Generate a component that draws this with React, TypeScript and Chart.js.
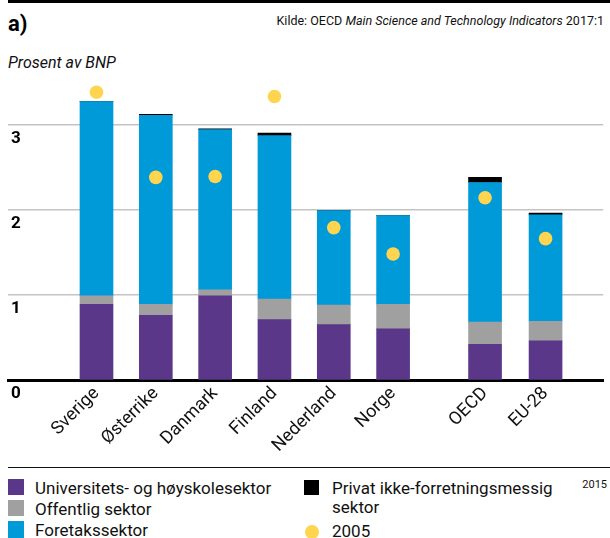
import React, { useEffect, useRef } from "react";
import { Chart, registerables } from "chart.js";
Chart.register(...registerables);

// ---- data ----
const countries = ["Sverige", "Østerrike", "Danmark", "Finland", "Nederland", "Norge", "OECD", "EU-28"];
const slots = [0, 1, 2, 3, 4, 5, 6.55, 7.57];
const universitet = [0.89, 0.76, 0.99, 0.71, 0.65, 0.6, 0.42, 0.46];
const offentlig = [0.1, 0.13, 0.07, 0.24, 0.23, 0.29, 0.26, 0.23];
const foretak = [2.28, 2.22, 1.88, 1.92, 1.11, 1.04, 1.64, 1.25];
const privat = [0.0, 0.01, 0.01, 0.03, 0.0, 0.0, 0.06, 0.02];
const ar2005 = [3.38, 2.38, 2.39, 3.33, 1.79, 1.48, 2.14, 1.66];
const yTicks = [0, 1, 2, 3];

const PURPLE = "#5b378a";
const GRAY = "#a0a0a0";
const BLUE = "#009ad9";
const BLACK = "#000000";
const YELLOW = "#ffd54f";
const FONT = "Roboto";

const pts = (arr: number[]) => arr.map((v, i) => ({ x: slots[i], y: v }));

function T(props: { x: number; base: number; size: number; children: any; style?: any; right?: boolean }) {
  const { x, base, size, children, style, right } = props;
  const top = base - 0.841 * size;
  const pos: any = right ? { right: 610 - x } : { left: x };
  return (
    <div
      style={{
        position: "absolute",
        top,
        ...pos,
        fontFamily: FONT,
        fontSize: size,
        lineHeight: `${size}px`,
        whiteSpace: "nowrap",
        color: "#111",
        ...style,
      }}
    >
      {children}
    </div>
  );
}

function Sq(props: { x: number; y: number; w: number; h: number; c: string; round?: boolean }) {
  return (
    <div
      style={{
        position: "absolute",
        left: props.x,
        top: props.y,
        width: props.w,
        height: props.h,
        background: props.c,
        borderRadius: props.round ? "50%" : 0,
      }}
    />
  );
}

export default function App() {
  const ref = useRef<HTMLCanvasElement | null>(null);

  useEffect(() => {
    if (!ref.current) return;
    const xMin = -1.4917;
    const xMax = xMin + 602 / 60;
    const chart = new Chart(ref.current, {
      type: "bar",
      data: {
        datasets: [
          {
            type: "line",
            label: "2005",
            data: pts(ar2005),
            showLine: false,
            pointRadius: 6.8,
            pointHoverRadius: 6.8,
            pointBackgroundColor: YELLOW,
            pointBorderWidth: 0,
            borderColor: YELLOW,
            order: 0,
            stack: "dots",
          } as any,
          { label: "Universitets- og høyskolesektor", data: pts(universitet), backgroundColor: PURPLE, order: 1, stack: "s" },
          { label: "Offentlig sektor", data: pts(offentlig), backgroundColor: GRAY, order: 1, stack: "s" },
          { label: "Foretakssektor", data: pts(foretak), backgroundColor: BLUE, order: 1, stack: "s" },
          { label: "Privat ikke-forretningsmessig sektor", data: pts(privat), backgroundColor: BLACK, order: 1, stack: "s" },
        ] as any,
      },
      options: {
        animation: false,
        responsive: false,
        maintainAspectRatio: false,
        layout: { padding: { top: 82, left: 0, right: 0, bottom: 0 } },
        datasets: { bar: { barThickness: 33, borderWidth: 0 } } as any,
        plugins: { legend: { display: false }, tooltip: { enabled: false } },
        scales: {
          x: {
            type: "linear",
            min: xMin,
            max: xMax,
            offset: false,
            stacked: true,
            z: 1,
            grid: { display: false, drawTicks: false },
            border: { display: true, color: "#000", width: 3 },
            afterBuildTicks: (s: any) => {
              s.ticks = slots.map((v) => ({ value: v }));
            },
            afterFit: (s: any) => {
              s.height = 86;
            },
            ticks: {
              autoSkip: false,
              maxRotation: 45,
              minRotation: 45,
              padding: 3,
              color: "#111",
              font: { family: FONT, size: 18 },
              callback: (v: any) => {
                const i = slots.findIndex((s) => Math.abs(s - Number(v)) < 1e-6);
                return i >= 0 ? countries[i] : "";
              },
            },
          } as any,
          y: {
            type: "linear",
            min: 0,
            max: 3.5,
            stacked: true,
            border: { display: false },
            grid: {
              drawTicks: false,
              color: (c: any) => (c.tick && c.tick.value === 0 ? "rgba(0,0,0,0)" : "#c4c4c4"),
              lineWidth: 1.4,
            },
            afterBuildTicks: (s: any) => {
              s.ticks = yTicks.map((v) => ({ value: v }));
            },
            afterFit: (s: any) => {
              s.width = 8;
            },
            ticks: {
              mirror: true,
              padding: 3,
              labelOffset: 14,
              color: "#000",
              font: { family: FONT, size: 17, weight: "bold" },
              callback: (v: any) => String(v),
            },
          } as any,
        },
      },
    });
    return () => chart.destroy();
  }, []);

  return (
    <div style={{ position: "absolute", left: 0, top: 0, width: 610, height: 538, overflow: "hidden", background: "#fff" }}>
      <Sq x={8} y={0} w={602} h={3} c="#000" />
      <T x={8} base={31.7} size={22} style={{ fontWeight: "bold", color: "#000" }}>
        a)
      </T>
      <T x={604} base={26} size={12.5} right>
        Kilde: OECD <i>Main Science and Technology Indicators</i> 2017:1
      </T>
      <T x={8} base={68.3} size={16} style={{ fontStyle: "italic" }}>
        Prosent av BNP
      </T>
      <canvas ref={ref} width={610} height={466} style={{ position: "absolute", left: 0, top: 0, width: 610, height: 466 }} />
      <Sq x={8} y={466.5} w={602} h={1.5} c="#111" />
      <Sq x={8} y={479} w={16} h={16} c={PURPLE} />
      <T x={35} base={494.7} size={17}>Universitets- og høyskolesektor</T>
      <Sq x={8} y={500} w={16} h={16} c={GRAY} />
      <T x={35} base={515.7} size={17}>Offentlig sektor</T>
      <Sq x={8} y={521} w={16} h={17} c={BLUE} />
      <T x={35} base={536.7} size={17}>Foretakssektor</T>
      <Sq x={304} y={480} w={15} h={15} c={BLACK} />
      <T x={332} base={494.7} size={17}>Privat ikke-forretningsmessig</T>
      <T x={332} base={513.3} size={17}>sektor</T>
      <Sq x={304.7} y={524.5} w={14} h={14} c={YELLOW} round />
      <T x={332} base={537.7} size={17}>2005</T>
      <T x={607} base={488} size={11} right>2015</T>
    </div>
  );
}
